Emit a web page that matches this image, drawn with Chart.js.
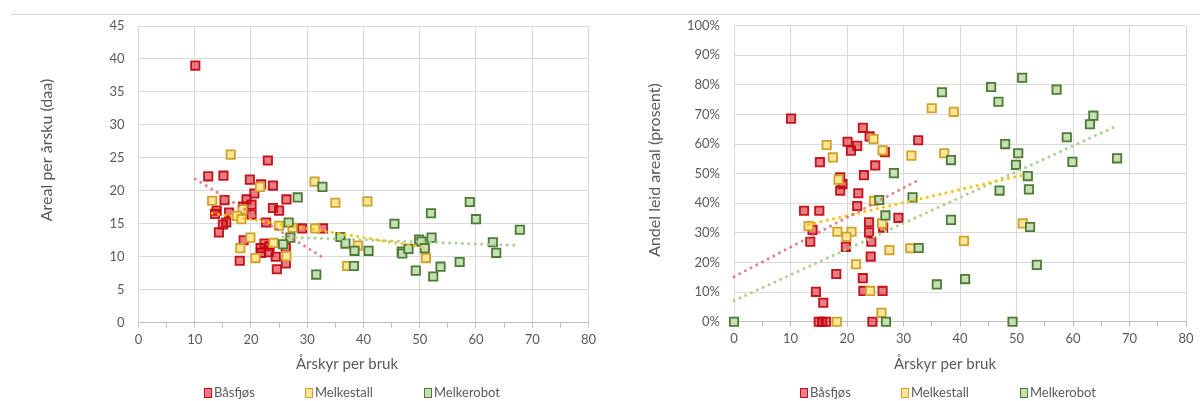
<!DOCTYPE html>
<html lang="no">
<head>
<meta charset="utf-8">
<title>Areal og leid areal per bruk</title>
<script src="https://cdn.jsdelivr.net/npm/chart.js@4.4.1/dist/chart.umd.min.js"></script>
<style>
  html, body { margin: 0; padding: 0; background: #fff; }
  body { width: 1200px; height: 401px; position: relative; overflow: hidden; font-family: Lato, "Open Sans", sans-serif; }
  .topline { position: absolute; left: 11px; right: 0; top: 14px; height: 1px; background: #d9d9d9; }
  canvas { position: absolute; top: 0; }
  #chartAreal { left: 0; }
  #chartLeid { left: 600px; }
  .legend { position: absolute; top: 384px; height: 16px; font-size: 13px; color: #595959; }
  .legend .item { position: absolute; top: 0; white-space: nowrap; line-height: 16px; }
  .legend .box { position: absolute; top: 4px; width: 6px; height: 8px; border-width: 1.5px; border-style: solid; }
  .legend .lbl { position: absolute; left: 10px; top: 0; }
</style>
</head>
<body>
<div class="topline"></div>
<canvas id="chartAreal" width="600" height="401"></canvas>
<canvas id="chartLeid" width="600" height="401"></canvas>
<div class="legend" id="legendAreal"></div>
<div class="legend" id="legendLeid"></div>
<script>
// Series names
const seriesNames = ['Båsfjøs', 'Melkestall', 'Melkerobot'];

// Areal per årsku (daa) against årskyr per bruk
const arealBasfjos = [
  [10.1,39.0],[12.4,22.2],[15.1,22.3],[19.8,21.7],[21.8,21.0],[23.0,24.6],[23.9,20.8],[20.6,19.6],
  [26.3,18.7],[15.3,18.6],[19.2,18.7],[20.1,17.9],[23.9,17.4],[25.0,17.0],[13.9,17.0],[13.6,16.5],
  [16.1,16.7],[18.6,17.6],[20.1,16.4],[15.6,15.2],[15.0,14.9],[14.3,13.7],[22.7,15.2],[29.1,14.3],
  [32.8,14.3],[18.7,12.5],[22.4,12.0],[21.7,11.3],[23.3,11.6],[21.8,10.6],[26.2,11.4],[23.2,10.7],
  [24.4,10.0],[18.0,9.4],[26.2,9.0],[24.6,8.1]
];
const arealMelkestall = [
  [16.4,25.5],[21.6,20.6],[31.3,21.4],[35.0,18.2],[40.7,18.4],[13.1,18.5],[18.5,17.2],[17.5,16.2],
  [18.3,15.7],[25.0,14.7],[27.4,14.4],[31.4,14.3],[19.9,12.9],[24.0,12.1],[18.1,11.3],[26.3,10.1],
  [20.8,9.8],[37.1,8.6],[39.0,11.7],[51.1,9.8]
];
const arealMelkerobot = [
  [32.7,20.6],[28.3,19.0],[26.7,15.2],[27.0,12.9],[25.7,11.9],[31.6,7.3],[35.9,13.0],[36.8,12.0],
  [38.4,10.9],[40.9,10.9],[38.3,8.6],[45.5,15.0],[46.8,10.8],[46.9,10.5],[48.0,11.2],[49.3,7.9],
  [49.9,12.6],[50.3,12.3],[50.9,11.3],[52.1,12.9],[52.0,16.6],[52.4,7.0],[53.7,8.5],[57.1,9.2],
  [58.9,18.3],[60.0,15.7],[63.0,12.2],[63.6,10.6],[67.8,14.1]
];

// Andel leid areal (prosent) against årskyr per bruk
const leidBasfjos = [
  [10.1,68.6],[22.8,65.5],[24.0,62.6],[20.1,60.8],[21.8,59.4],[20.7,57.8],[26.7,57.3],[32.6,61.3],
  [15.2,53.9],[25.0,52.8],[23.0,49.5],[18.8,48.8],[19.2,46.5],[18.8,44.3],[22.0,43.4],[21.8,39.1],
  [12.4,37.5],[15.1,37.5],[29.1,35.1],[13.9,31.0],[13.5,27.0],[23.9,33.6],[26.4,31.8],[23.9,30.2],
  [24.3,27.0],[19.8,25.3],[24.2,22.0],[18.1,16.1],[22.8,14.7],[14.5,10.1],[22.9,10.4],[26.3,10.4],
  [15.8,6.4],[15.0,0],[15.6,0],[16.3,0],[24.5,0]
];
const leidMelkestall = [
  [24.7,61.7],[26.3,57.9],[35.0,72.1],[38.9,70.9],[16.4,59.7],[17.5,55.5],[31.4,56.1],[37.2,56.9],
  [18.5,48.0],[24.8,40.8],[13.2,32.3],[26.2,33.2],[18.3,30.4],[20.8,30.4],[19.9,28.7],[27.5,24.2],
  [31.2,24.8],[21.6,19.4],[24.1,10.4],[26.1,3.0],[18.2,0],[51.1,33.2],[40.7,27.3]
];
const leidMelkerobot = [
  [51.0,82.4],[45.5,79.3],[36.8,77.5],[57.1,78.4],[46.8,74.3],[63.6,69.6],[63.0,66.7],[58.9,62.3],
  [48.0,60.0],[50.3,56.9],[38.4,54.6],[67.8,55.2],[59.9,54.0],[49.9,53.0],[52.0,49.2],[52.2,44.7],
  [47.0,44.3],[31.6,42.0],[38.4,34.4],[52.4,32.0],[32.7,24.9],[53.6,19.2],[35.9,12.6],[40.9,14.4],
  [49.3,0],[0,0],[28.3,50.2],[25.7,41.1],[26.8,35.9],[26.9,0]
];

// Linear trend lines (start and end point)
const arealTrendBasfjos    = [[10.1,21.8],[32.8,9.9]];
const arealTrendMelkestall = [[13.1,16.6],[51.1,11.4]];
const arealTrendMelkerobot = [[25.7,13.0],[67.8,11.7]];
const leidTrendBasfjos     = [[0,15.2],[32.8,48.0]];
const leidTrendMelkestall  = [[13.2,32.8],[51.1,49.5]];
const leidTrendMelkerobot  = [[0,7.1],[67.8,66.2]];

// Axis ticks
const xTicks = { min: 0, max: 80, step: 10 };
const arealTicks = { min: 0, max: 45, step: 5 };
const leidTicks = { min: 0, max: 100, step: 10 };

const styles = [
  { fill: 'rgba(210, 20, 30, 0.55)', border: 'rgba(192, 0, 10, 0.9)', trend: 'rgba(222, 90, 100, 0.75)' },
  { fill: '#FFE699', border: '#CFA22E', trend: '#FFC000' },
  { fill: '#C5E0B4', border: '#4F7A35', trend: '#A9D18E' }
];

const TEXT = '#595959';
const FONT = 'Lato, "Open Sans", sans-serif';
Chart.defaults.font.family = FONT;
Chart.defaults.color = TEXT;

const toPts = arr => arr.map(([x, y]) => ({ x, y }));

function scatterSet(i, pts) {
  return {
    label: seriesNames[i],
    data: toPts(pts),
    pointStyle: 'rect',
    pointRadius: 5.9,
    pointHoverRadius: 5.9,
    borderWidth: 1.8,
    backgroundColor: styles[i].fill,
    borderColor: styles[i].border,
    showLine: false,
    clip: false,
    order: 3 - i
  };
}
function trendSet(i, pts) {
  return {
    label: seriesNames[i] + ' trend',
    data: toPts(pts),
    showLine: true,
    pointRadius: 0,
    borderColor: styles[i].trend,
    borderWidth: 3,
    borderDash: [0.01, 6.4],
    borderCapStyle: 'round',
    fill: false,
    clip: false,
    order: 0
  };
}

// Draws the rotated value-axis title and the category-axis title
const axisTitles = {
  id: 'axisTitles',
  afterDraw(chart, args, opts) {
    const ctx = chart.ctx;
    ctx.save();
    ctx.fillStyle = TEXT;
    ctx.textAlign = 'center';
    ctx.textBaseline = 'middle';
    ctx.font = '16px ' + FONT;
    ctx.translate(opts.yx, opts.yy);
    ctx.rotate(-Math.PI / 2);
    ctx.fillText(opts.yText, 0, 0);
    ctx.restore();
    ctx.save();
    ctx.fillStyle = TEXT;
    ctx.textAlign = 'center';
    ctx.textBaseline = 'middle';
    ctx.font = '15px ' + FONT;
    ctx.fillText(opts.xText, opts.xx, opts.xy);
    ctx.restore();
  }
};

function makeChart(id, sets, trends, yTicks, yFmt, geom, titles) {
  const datasets = [];
  sets.forEach((s, i) => datasets.push(scatterSet(i, s)));
  trends.forEach((t, i) => datasets.push(trendSet(i, t)));
  return new Chart(document.getElementById(id), {
    type: 'scatter',
    data: { datasets },
    plugins: [axisTitles],
    options: {
      responsive: false,
      animation: false,
      devicePixelRatio: 1,
      layout: { padding: { top: geom.top, right: geom.right, left: 0, bottom: 0 } },
      plugins: {
        legend: { display: false },
        tooltip: { enabled: false },
        axisTitles: titles
      },
      scales: {
        x: {
          type: 'linear',
          min: xTicks.min,
          max: xTicks.max,
          afterFit: s => { s.height = geom.xHeight; },
          ticks: {
            stepSize: xTicks.step / 2,
            autoSkip: false,
            maxRotation: 0,
            padding: 4,
            font: { size: 13 },
            color: TEXT,
            callback: v => (v % xTicks.step === 0 ? String(v) : '')
          },
          grid: {
            color: c => (c.tick && c.tick.value % xTicks.step === 0 ? '#d9d9d9' : 'rgba(0,0,0,0)'),
            tickColor: '#bfbfbf',
            tickLength: 5,
            drawTicks: true
          },
          border: { color: '#bfbfbf', width: 1 }
        },
        y: {
          type: 'linear',
          min: yTicks.min,
          max: yTicks.max,
          afterFit: s => { s.width = geom.yWidth; },
          ticks: {
            stepSize: yTicks.step,
            padding: 14,
            font: { size: 13 },
            color: TEXT,
            callback: yFmt
          },
          grid: { color: '#d9d9d9', drawTicks: false },
          border: { color: '#d9d9d9', width: 1 }
        }
      }
    }
  });
}

makeChart('chartAreal',
  [arealBasfjos, arealMelkestall, arealMelkerobot],
  [arealTrendBasfjos, arealTrendMelkestall, arealTrendMelkerobot],
  arealTicks, v => String(v),
  { top: 26, right: 10.5, yWidth: 138.5, xHeight: 78.3 },
  { yText: 'Areal per årsku (daa)', yx: 47, yy: 150, xText: 'Årskyr per bruk', xx: 347, xy: 364 });

makeChart('chartLeid',
  [leidBasfjos, leidMelkestall, leidMelkerobot],
  [leidTrendBasfjos, leidTrendMelkestall, leidTrendMelkerobot],
  leidTicks, v => v + '%',
  { top: 25.7, right: 14, yWidth: 134, xHeight: 79.3 },
  { yText: 'Andel leid areal (prosent)', yx: 55, yy: 170, xText: 'Årskyr per bruk', xx: 345, xy: 364 });

// Legends below each chart
function buildLegend(id, positions) {
  const el = document.getElementById(id);
  seriesNames.forEach((name, i) => {
    const item = document.createElement('div');
    item.className = 'item';
    item.style.left = positions[i] + 'px';
    const box = document.createElement('span');
    box.className = 'box';
    box.style.background = styles[i].fill;
    box.style.borderColor = styles[i].border;
    const lbl = document.createElement('span');
    lbl.className = 'lbl';
    lbl.textContent = name;
    item.appendChild(box);
    item.appendChild(lbl);
    el.appendChild(item);
  });
}
buildLegend('legendAreal', [204, 305, 424]);
buildLegend('legendLeid', [800, 901, 1020]);
</script>
</body>
</html>
